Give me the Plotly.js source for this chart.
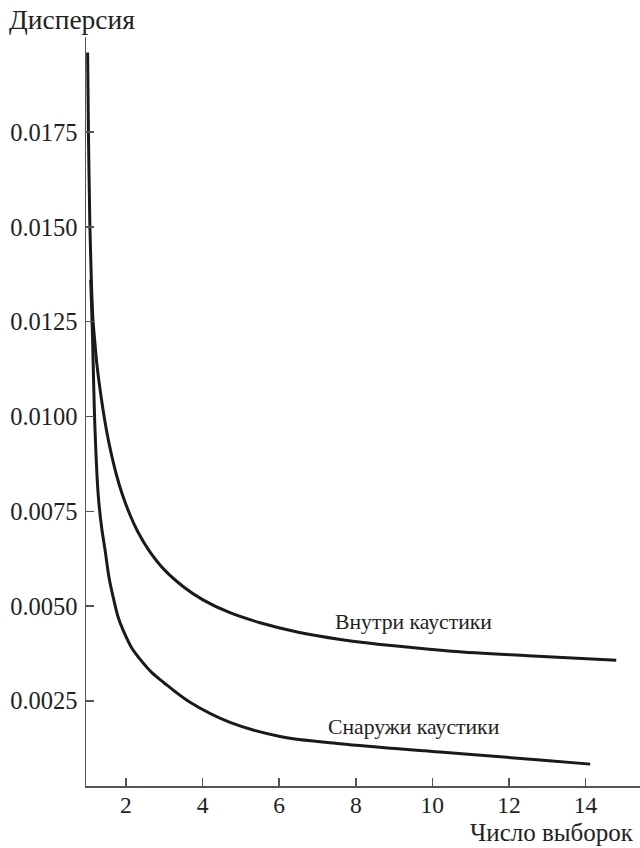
<!DOCTYPE html>
<html>
<head>
<meta charset="utf-8">
<script src="https://cdn.plot.ly/plotly-3.0.1.min.js"></script>
<style>html,body{margin:0;padding:0;background:#fff;}#chart{width:640px;height:848px;}</style>
</head>
<body>
<div id="chart"></div>
<script>
// Series: "Внутри каустики" (inside caustic)
var insideX = [1.0, 1.02, 1.06, 1.10, 1.14, 1.19, 1.24, 1.3, 1.4, 1.5, 1.6, 1.75, 1.9, 2.1, 2.3, 2.6, 3.0, 3.5, 4.0, 4.7, 5.5, 6.5, 7.6, 9.0, 10.5, 12.5, 14.8];
var insideY = [0.0196, 0.0176, 0.0150, 0.0135, 0.01255, 0.01195, 0.0114, 0.0109, 0.0102, 0.0096, 0.0091, 0.00847, 0.00796, 0.00742, 0.00698, 0.00647, 0.00596, 0.00551, 0.00517, 0.00483, 0.00456, 0.00431, 0.00412, 0.00395, 0.00381, 0.00369, 0.00357];
// Series: "Снаружи каустики" (outside caustic)
var outsideX = [1.081, 1.123, 1.193, 1.279, 1.366, 1.454, 1.561, 1.671, 1.802, 1.932, 2.149, 2.368, 2.671, 2.977, 3.674, 4.718, 6.024, 7.59, 10.2, 12.81, 14.12];
var outsideY = [0.01361, 0.01229, 0.00966, 0.00790, 0.00707, 0.00649, 0.00574, 0.00522, 0.00469, 0.00435, 0.00390, 0.00360, 0.00325, 0.00299, 0.00246, 0.00193, 0.00156, 0.00137, 0.00115, 0.00094, 0.00083];
// Tick labels
var xTicks = [2, 4, 6, 8, 10, 12, 14];
var yTicks = [0.0025, 0.0050, 0.0075, 0.0100, 0.0125, 0.0150, 0.0175];
var yTickText = ["0.0025", "0.0050", "0.0075", "0.0100", "0.0125", "0.0150", "0.0175"];
var labels = {yTitle: "Дисперсия", xTitle: "Число выборок", inside: "Внутри каустики", outside: "Снаружи каустики"};

var font = "Liberation Serif, Times New Roman, serif";
var lineStyle = {color: "#1a1a1a", width: 3, shape: "spline", smoothing: 1};

var traces = [
  {x: insideX, y: insideY, mode: "lines", line: lineStyle, hoverinfo: "skip", name: labels.inside},
  {x: outsideX, y: outsideY, mode: "lines", line: lineStyle, hoverinfo: "skip", name: labels.outside}
];

var axisCommon = {
  showgrid: false, zeroline: false, showline: true,
  linecolor: "#555", linewidth: 1.5,
  ticks: "inside", ticklen: 8, tickwidth: 1.5, tickcolor: "#555"
};

var layout = {
  width: 640, height: 848,
  margin: {l: 86, r: 0, t: 37, b: 62, pad: 0},
  paper_bgcolor: "#fff", plot_bgcolor: "#fff",
  showlegend: false,
  title: {text: labels.yTitle, x: 9/640, xanchor: "left", xref: "container",
          y: 1 - 19/848, yanchor: "middle", yref: "container",
          font: {family: font, size: 27.5, color: "#222"}},
  xaxis: Object.assign({}, axisCommon, {
    range: [0.958, 15.42], tickvals: xTicks, ticktext: xTicks.map(String), ticklabelstandoff: -3,
    tickfont: {family: font, size: 23.5, color: "#222"}
  }),
  yaxis: Object.assign({}, axisCommon, {
    range: [0.000253, 0.02001], tickvals: yTicks, ticktext: yTickText, ticklabelstandoff: 2,
    tickfont: {family: font, size: 24.5, color: "#222"}
  }),
  annotations: [
    {text: labels.xTitle, xref: "paper", yref: "paper", x: 1, y: 0, xanchor: "right", yanchor: "bottom",
     xshift: -4, yshift: -62, showarrow: false, font: {family: font, size: 25, color: "#222"}},
    {text: labels.inside, xref: "x", yref: "y", x: 9.52, y: 0.00458, xanchor: "center", yanchor: "middle",
     showarrow: false, font: {family: font, size: 21.7, color: "#222"}},
    {text: labels.outside, xref: "x", yref: "y", x: 9.53, y: 0.00181, xanchor: "center", yanchor: "middle",
     showarrow: false, font: {family: font, size: 21.7, color: "#222"}}
  ]
};

Plotly.newPlot("chart", traces, layout, {staticPlot: true, displayModeBar: false});
</script>
</body>
</html>
